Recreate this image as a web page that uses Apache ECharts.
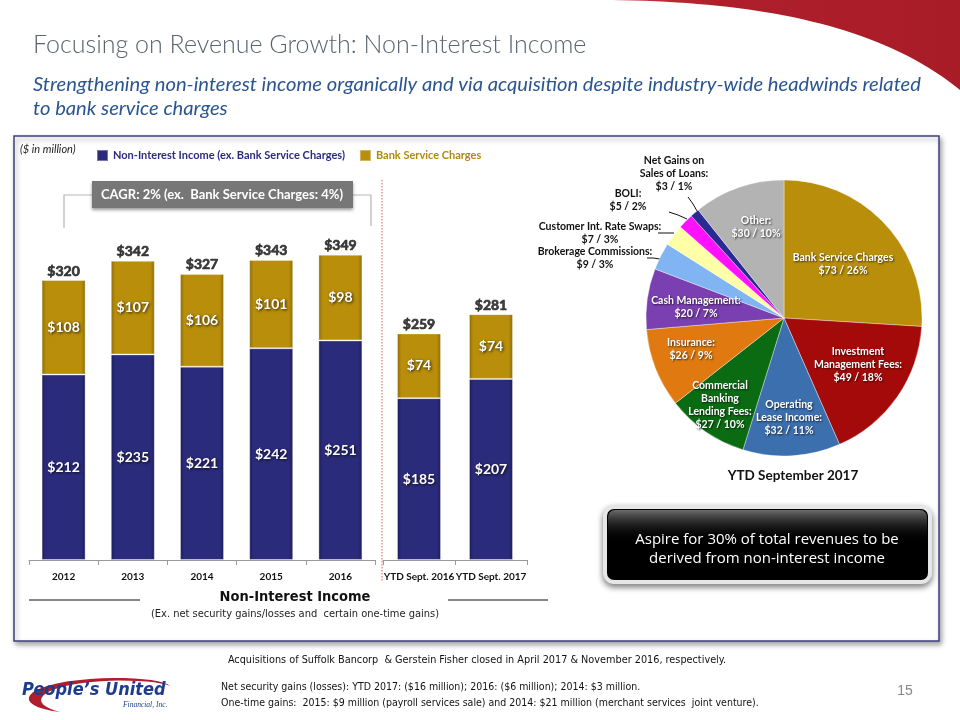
<!DOCTYPE html>
<html>
<head>
<meta charset="utf-8">
<script src="https://cdn.jsdelivr.net/npm/echarts@6/dist/echarts.min.js"></script>
<style>
html,body{margin:0;padding:0;background:#fff;}
#chart{width:960px;height:720px;}
</style>
</head>
<body>
<div id="chart"></div>
<script>
// ---------- DATA ----------
var annualCategories = ['2012', '2013', '2014', '2015', '2016'];
var annualNonInterest = [212, 235, 221, 242, 251];
var annualBankService = [108, 107, 106, 101, 98];

var ytdCategories = ['YTD Sept. 2016', 'YTD Sept. 2017'];
var ytdNonInterest = [185, 207];
var ytdBankService = [74, 74];

var seriesNames = ['Non-Interest Income (ex. Bank Service Charges)', 'Bank Service Charges'];

var pieNames = ['Bank Service Charges', 'Investment Management Fees', 'Operating Lease Income',
  'Commercial Banking Lending Fees', 'Insurance', 'Cash Management', 'Brokerage Commissions',
  'Customer Int. Rate Swaps', 'BOLI', 'Net Gains on Sales of Loans', 'Other'];
var pieLabelHeads = ['Bank Service Charges', 'Investment\nManagement Fees:', 'Operating\nLease Income:',
  'Commercial\nBanking\nLending Fees:', 'Insurance:', 'Cash Management:', 'Brokerage Commissions:',
  'Customer Int. Rate Swaps:', 'BOLI:', 'Net Gains on\nSales of Loans:', 'Other:'];
var pieValues = [73, 49, 32, 27, 26, 20, 9, 7, 5, 3, 30];
var piePercents = [26, 18, 11, 10, 9, 7, 3, 3, 2, 1, 10];
var pieTitle = 'YTD September 2017';

// ---------- STYLE ----------
var NARROW = '"Liberation Sans Narrow","DejaVu Sans Condensed","Liberation Sans",sans-serif';
var BODY = 'Lato,"Open Sans",sans-serif';
var BLUE = '#2B2B7C', GOLD = '#B88E0A';
var pieColors = ['#B88E0A', '#A50A0A', '#3B6FAE', '#0B6B12', '#E07A10', '#7A3FB0',
  '#80B4F2', '#FFFFA8', '#FF10FF', '#2A2A92', '#B3B3B3'];

function lg(x2, y2, stops) {
  return {type: 'linear', x: 0, y: 0, x2: x2, y2: y2, colorStops: stops};
}
function grad(edge, mid) {
  return lg(1, 0, [{offset: 0, color: edge}, {offset: 0.1, color: mid},
    {offset: 0.9, color: mid}, {offset: 1, color: edge}]);
}
function sum(a, b) { return a.map(function (v, i) { return v + b[i]; }); }
// sample cubic bezier segments into polygon points (decoration shapes only)
function bez(p0, p1, p2, p3, n) {
  var pts = [];
  for (var i = 0; i <= n; i++) {
    var t = i / n, u = 1 - t;
    pts.push([u*u*u*p0[0] + 3*u*u*t*p1[0] + 3*u*t*t*p2[0] + t*t*t*p3[0],
              u*u*u*p0[1] + 3*u*u*t*p1[1] + 3*u*t*t*p2[1] + t*t*t*p3[1]]);
  }
  return pts;
}

var insideLabel = {
  show: true, position: 'inside', color: '#fff', fontFamily: BODY, fontWeight: 700,
  fontSize: 14, textShadowColor: 'rgba(0,0,0,0.8)', textShadowBlur: 3, textShadowOffsetX: 1, textShadowOffsetY: 1,
  formatter: function (p) { return '$' + p.value; }
};
var totalLabel = {
  show: true, position: 'top', distance: 2, color: '#111', fontFamily: BODY, fontWeight: 700,
  fontSize: 14, textBorderColor: '#111', textBorderWidth: 0.7,
  formatter: function (p) { return '$' + p.value; }
};

function barSeries(name, data, axis, color, edge) {
  return {
    type: 'bar', name: name, data: data, stack: 's' + axis, xAxisIndex: axis, yAxisIndex: axis,
    barWidth: 44, label: insideLabel,
    itemStyle: {color: grad(edge, color), borderColor: 'rgba(255,255,255,0.35)', borderWidth: 1},
    emphasis: {disabled: true}
  };
}
function totalSeries(data, axis) {
  return {
    type: 'scatter', data: data, xAxisIndex: axis, yAxisIndex: axis, symbolSize: 0,
    label: totalLabel, silent: true, z: 5, emphasis: {disabled: true}
  };
}

// pie label placement (px)
var pieLabelPos = [[843, 264], [858, 365], [789, 418], [720, 405], [691, 349], [696, 307],
  [595, 258], [600, 233], [628, 200], [674, 174], [756, 227]];
var pieLinePts = {
  6: [[647, 258], [653, 258], [660, 259]],
  7: [[658, 233], [666, 233], [674, 233]],
  8: [[669, 212], [678, 215], [687, 219]],
  9: [[688, 197], [693, 204], [697, 211]]
};

var pieData = pieNames.map(function (n, i) {
  var outside = !!pieLinePts[i];
  return {
    name: n, value: pieValues[i],
    itemStyle: {color: pieColors[i]},
    label: outside ? {color: '#111', textShadowBlur: 0, textShadowColor: 'transparent', textShadowOffsetX: 0, textShadowOffsetY: 0} : {},
    labelLine: {show: outside}
  };
});

var axisCommon = {
  type: 'category',
  axisLine: {lineStyle: {color: '#9a9a9a'}},
  axisTick: {show: true, length: 5, lineStyle: {color: '#9a9a9a'}},
  axisLabel: {color: '#111', fontFamily: BODY, fontWeight: 700, fontSize: 10, margin: 12, interval: 0}
};

var swooshPts = bez([612, 0], [760, 2], [880, 25], [960, 90], 40).concat([[960, 0]]);
var logoPts = bez([60, 712], [10, 706], [20, 684], [90, 679], 16)
  .concat(bez([90, 679], [130, 676], [165, 680], [170, 686], 10))
  .concat(bez([170, 686], [160, 681], [120, 679], [92, 682], 10))
  .concat(bez([92, 682], [40, 687], [25, 703], [60, 712], 16));

var chart = echarts.init(document.getElementById('chart'));

var option = {
  animation: false,
  backgroundColor: '#fff',
  legend: {
    left: 91, top: 144, itemWidth: 11, itemHeight: 11, itemGap: 14, icon: 'rect',
    selectedMode: false,
    data: [
      {name: seriesNames[0], itemStyle: {color: BLUE}, textStyle: {color: '#2B2B80'}},
      {name: seriesNames[1], itemStyle: {color: GOLD}, textStyle: {color: '#B08A10'}}
    ],
    textStyle: {fontFamily: BODY, fontWeight: 'bold', fontSize: 11}
  },
  grid: [
    {left: 29, width: 346, top: 210, height: 350},
    {left: 383, width: 144, top: 210, height: 350}
  ],
  xAxis: [
    Object.assign({gridIndex: 0, data: annualCategories}, axisCommon),
    Object.assign({gridIndex: 1, data: ytdCategories}, axisCommon)
  ],
  yAxis: [
    {gridIndex: 0, type: 'value', min: 0, max: 400, show: false},
    {gridIndex: 1, type: 'value', min: 0, max: 400, show: false}
  ],
  series: [
    barSeries(seriesNames[0], annualNonInterest, 0, BLUE, '#1C1C5A'),
    barSeries(seriesNames[1], annualBankService, 0, GOLD, '#8A6A06'),
    barSeries(seriesNames[0], ytdNonInterest, 1, BLUE, '#1C1C5A'),
    barSeries(seriesNames[1], ytdBankService, 1, GOLD, '#8A6A06'),
    totalSeries(sum(annualNonInterest, annualBankService), 0),
    totalSeries(sum(ytdNonInterest, ytdBankService), 1),
    {
      type: 'pie', center: [784, 318], radius: 138, startAngle: 90, clockwise: true,
      data: pieData, silent: true,
      itemStyle: {borderColor: 'rgba(255,255,255,0.6)', borderWidth: 0.6},
      label: {
        show: true, position: 'outside', align: 'center', color: '#fff', fontFamily: BODY,
        fontWeight: 'bold', fontSize: 10.5, lineHeight: 13, overflow: 'none',
        textShadowColor: 'rgba(0,0,0,0.7)', textShadowBlur: 2, textShadowOffsetX: 1, textShadowOffsetY: 1,
        formatter: function (p) {
          var i = p.dataIndex;
          return pieLabelHeads[i] + '\n$' + pieValues[i] + ' / ' + piePercents[i] + '%';
        }
      },
      labelLine: {lineStyle: {color: '#111', width: 1}, length: 5, length2: 5},
      labelLayout: function (p) {
        var pos = pieLabelPos[p.dataIndex];
        var r = {x: pos[0], y: pos[1], align: 'center', verticalAlign: 'middle'};
        if (pieLinePts[p.dataIndex]) r.labelLinePoints = pieLinePts[p.dataIndex];
        return r;
      }
    }
  ],
  graphic: [
    // red swoosh
    {type: 'polygon', z: -5, shape: {points: swooshPts},
      style: {fill: lg(1, 0, [{offset: 0, color: '#C23A44'}, {offset: 0.3, color: '#AE1F2A'}, {offset: 1, color: '#A81C28'}])}},
    // title
    {type: 'text', left: 33, top: 32, style: {text: 'Focusing on Revenue Growth: Non-Interest Income',
      fill: '#5B6470', font: '300 25px Lato, "Open Sans", sans-serif'}},
    {type: 'text', left: 33, top: 72, style: {text: 'Strengthening non-interest income organically and via acquisition despite industry-wide headwinds related\nto bank service charges',
      fill: '#2A5590', font: 'italic 20.2px Lato, "Open Sans", sans-serif', lineHeight: 24}},
    // panel
    {type: 'rect', z: -10, shape: {x: 14, y: 136, width: 925, height: 505},
      style: {fill: '#fff', stroke: '#3E3E80', lineWidth: 1.5, shadowBlur: 5, shadowOffsetX: 2, shadowOffsetY: 3, shadowColor: 'rgba(0,0,0,0.35)'}},
    {type: 'text', left: 20, top: 144, style: {text: '($ in million)', fill: '#222',
      font: 'italic 11px Lato, "Open Sans", sans-serif'}},
    // CAGR bracket + box
    {type: 'polyline', shape: {points: [[64, 228], [64, 195], [92, 195]]}, style: {stroke: '#B5B5B5', lineWidth: 1.2, fill: 'none'}},
    {type: 'polyline', shape: {points: [[353, 195], [371, 195], [371, 226]]}, style: {stroke: '#B5B5B5', lineWidth: 1.2, fill: 'none'}},
    {type: 'rect', shape: {x: 92, y: 181, width: 261, height: 27},
      style: {fill: '#777', shadowBlur: 3, shadowOffsetY: 2, shadowColor: 'rgba(0,0,0,0.4)'}},
    {type: 'text', x: 222, y: 194.5, style: {text: 'CAGR: 2% (ex.  Bank Service Charges: 4%)', fill: '#fff',
      font: 'bold 13px Lato, "Open Sans", sans-serif', align: 'center', verticalAlign: 'middle'}},
    // separator
    {type: 'line', shape: {x1: 382, y1: 180, x2: 382, y2: 582}, style: {stroke: '#D06060', lineWidth: 1, lineDash: [1.5, 1.5]}},
    // bottom caption
    {type: 'line', shape: {x1: 29, y1: 600, x2: 140, y2: 600}, style: {stroke: '#111', lineWidth: 1}},
    {type: 'line', shape: {x1: 448, y1: 600, x2: 548, y2: 600}, style: {stroke: '#111', lineWidth: 1}},
    {type: 'text', x: 295, y: 597, style: {text: 'Non-Interest Income', fill: '#111', align: 'center', verticalAlign: 'middle',
      font: 'bold 14.5px ' + NARROW}},
    {type: 'text', x: 295, y: 614, style: {text: '(Ex. net security gains/losses and  certain one-time gains)', fill: '#222',
      align: 'center', verticalAlign: 'middle', font: '11px ' + NARROW}},
    // pie title
    {type: 'text', x: 793, y: 476, style: {text: pieTitle, fill: '#111', align: 'center', verticalAlign: 'middle',
      font: 'bold 13.5px Lato, "Open Sans", sans-serif'}},
    // aspire box
    {type: 'rect', shape: {x: 605, y: 507, width: 325, height: 75, r: 9},
      style: {fill: '#000', stroke: '#E6E6E6', lineWidth: 4, shadowBlur: 6, shadowOffsetY: 3, shadowColor: 'rgba(0,0,0,0.45)'}},
    {type: 'rect', shape: {x: 608, y: 510, width: 319, height: 32, r: [7, 7, 0, 0]},
      style: {fill: lg(0, 1, [{offset: 0, color: 'rgba(120,120,120,0.9)'}, {offset: 1, color: 'rgba(0,0,0,0)'}])}},
    {type: 'text', x: 767, y: 549, style: {text: 'Aspire for 30% of total revenues to be\nderived from non-interest income',
      fill: '#fff', align: 'center', verticalAlign: 'middle', lineHeight: 19, font: '15px "Open Sans", Lato, sans-serif'}},
    // footer
    {type: 'text', x: 477, y: 660, style: {text: 'Acquisitions of Suffolk Bancorp  & Gerstein Fisher closed in April 2017 & November 2016, respectively.',
      fill: '#111', align: 'center', verticalAlign: 'middle', font: '10.8px ' + NARROW}},
    {type: 'text', left: 221, top: 680, style: {text: 'Net security gains (losses): YTD 2017: ($16 million); 2016: ($6 million); 2014: $3 million.\nOne-time gains:  2015: $9 million (payroll services sale) and 2014: $21 million (merchant services  joint venture).',
      fill: '#111', lineHeight: 15.5, font: '10.5px ' + NARROW}},
    {type: 'text', x: 905, y: 691, style: {text: '15', fill: '#888', align: 'center', verticalAlign: 'middle', font: '14px "Liberation Sans", sans-serif'}},
    // logo
    {type: 'polygon', shape: {points: logoPts}, style: {fill: '#B01E2C'}},
    {type: 'text', left: 22, top: 681, style: {text: 'People\u2019s United', fill: '#1E3C8E',
      font: 'italic bold 18px "Liberation Sans Narrow","DejaVu Sans Condensed",sans-serif'}},
    {type: 'text', left: 123, top: 701, style: {text: 'Financial, Inc.', fill: '#1E3C8E',
      font: 'italic 7.5px "Liberation Serif", serif'}}
  ]
};
chart.setOption(option);
</script>
</body>
</html>
